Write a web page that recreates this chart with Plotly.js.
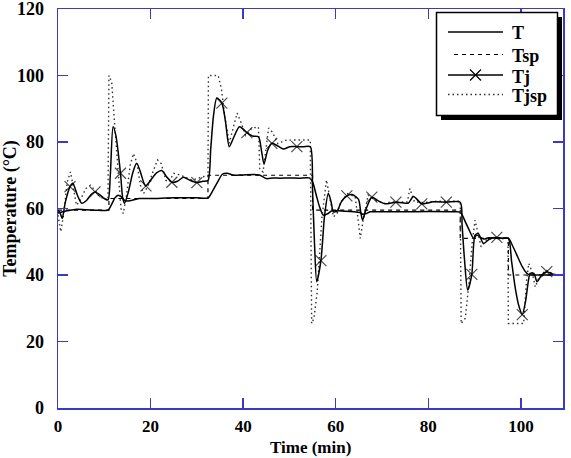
<!DOCTYPE html>
<html>
<head>
<meta charset="utf-8">
<script src="https://cdn.plot.ly/plotly-3.0.1.min.js"></script>
<style>html,body{margin:0;padding:0;background:#fff;}</style>
</head>
<body>
<div id="chart" style="width:571px;height:458px;"></div>
<script>
// ---- Data ----
const tX = [0, 1, 2, 4, 6, 8, 10.8, 11.5, 12.3, 13, 13.7, 14.5, 15.5, 17.5, 20, 25, 30, 32.4, 33.5, 34.5, 35.5, 36.5, 38, 40, 43.5, 45, 46.5, 48, 50, 52, 54.3, 55, 55.8, 56.5, 57.3, 58.2, 59.2, 60.5, 62, 64, 65.2, 65.8, 66.6, 67.5, 70, 75, 80, 85, 86.9, 88, 89, 89.8, 90.5, 91.3, 92, 93, 95, 97.3, 98.3, 99.3, 100.3, 101.3, 102, 103, 105, 107, 109];
const tY = [58.6, 59, 59.3, 59.8, 59.6, 59.5, 59.5, 61, 63.2, 64, 63.5, 62.3, 62.3, 63, 63, 63.2, 63.2, 63.2, 65.5, 68, 70.3, 70.6, 70, 70.1, 70.1, 69, 69.2, 69.1, 69.2, 69.1, 69.2, 68, 64, 60.5, 58, 58.4, 59.3, 59.3, 59.2, 59, 58.8, 58.3, 58.5, 59, 59, 59, 59.1, 59, 58.9, 56, 53, 51, 52, 51.3, 50.8, 51.2, 51, 51, 48.5, 45.5, 42.5, 40.5, 40, 40, 40, 40, 40];

const tspX = [0, 11, 11, 32.4, 32.4, 55, 55, 86.9, 86.9, 97.3, 97.3, 109];
const tspY = [59.5, 59.5, 63, 63, 70, 70, 59.5, 59.5, 51, 51, 40, 40];

const tjX = [0, 0.5, 0.9, 1.6, 2.6, 3.2, 4.2, 5.1, 6.2, 7.2, 8.0, 9.0, 10.0, 10.8, 11.3, 11.9, 12.5, 13.5, 14.0, 14.4, 15.2, 16.2, 17.0, 17.8, 18.6, 19.0, 20.0, 21.3, 22.4, 23.5, 24.6, 25.8, 27.1, 28.5, 30.0, 31.3, 32.4, 33.0, 33.6, 34.3, 35.4, 36.2, 37.0, 38.0, 39.2, 40.8, 42.0, 43.3, 44.0, 44.5, 45.3, 46.2, 47.5, 48.7, 50.1, 51.6, 53.0, 54.5, 55.0, 55.4, 55.9, 56.8, 57.6, 58.4, 59.0, 59.5, 60.3, 61.2, 62.4, 63.5, 64.9, 65.4, 65.8, 66.6, 67.8, 69.2, 70.7, 73.0, 75.0, 75.7, 76.8, 78.6, 81.1, 83.9, 86.9, 87.3, 87.8, 88.5, 89.4, 90.1, 90.8, 91.9, 93.4, 94.8, 96.0, 97.3, 98.0, 98.8, 99.6, 100.3, 101.0, 101.6, 102.0, 102.8, 103.5, 104.5, 105.6, 107, 108.1, 109];
const tjY = [59.5, 58.5, 57, 62, 66.6, 67.6, 64, 61.6, 62.5, 64.3, 65, 64.2, 63, 62.6, 70, 84.6, 82, 70.6, 63, 61.6, 65, 71, 73.6, 71, 67.5, 66.8, 68.5, 70.7, 71.4, 69.5, 67.9, 68.2, 69.4, 68.5, 67.8, 68.2, 68.4, 78, 88, 93.2, 91.7, 86, 78.6, 81.5, 84.6, 82.8, 81.8, 81.6, 77, 73.4, 77.5, 79.6, 78.8, 77.9, 78.6, 78.6, 78.6, 78.6, 65, 50, 38, 44.3, 58, 64.6, 62, 59, 59.2, 62, 63.8, 64.2, 62.8, 59, 56.5, 60, 63.4, 62.3, 61.4, 61.9, 61.6, 61.6, 63.6, 61.4, 62, 61.9, 61.9, 55, 45, 35.5, 40.2, 52, 52.5, 49.5, 51, 51.3, 51, 51, 44, 36, 30.5, 28.1, 32, 38, 40.5, 40.5, 38, 40, 41, 40.2, 40, 40];
// x positions where the Tj curve carries a cross marker
const tjMarkX = [2.6, 8.0, 13.5, 19.0, 24.6, 30.0, 35.4, 40.8, 46.2, 51.6, 56.8, 62.4, 67.8, 73.0, 78.6, 83.9, 89.4, 94.8, 100.3, 105.6];

const tjspX = [0, 0.6, 1.2, 2.0, 2.7, 3.3, 4.0, 4.8, 6.0, 7.0, 8.0, 9.0, 10.8, 11.0, 11.6, 12.2, 13.0, 13.6, 14.1, 14.8, 15.6, 16.3, 17.0, 17.8, 18.5, 19.5, 20.5, 21.5, 22.3, 23.3, 24.0, 25.0, 26.5, 28, 29, 30, 31.5, 32.4, 32.5, 34.6, 35.3, 36.0, 37.0, 37.8, 38.7, 39.5, 40.5, 41.9, 43.3, 43.6, 44.3, 45.5, 46.3, 47.5, 49.0, 51, 53, 54.5, 54.8, 55.3, 56.0, 57.0, 58.0, 58.8, 59.5, 60.3, 61.0, 62.5, 64.2, 64.8, 65.3, 66.0, 67.0, 68.5, 70.5, 72, 74, 75.5, 76.0, 77, 79, 82, 84.5, 86.9, 87.1, 88.0, 88.8, 89.5, 90.1, 90.7, 91.4, 92.5, 94.5, 97.2, 97.3, 100.6, 101.2, 101.7, 102.4, 103.1, 104, 105.5, 107, 109];
const tjspY = [58, 53, 58, 68, 71, 66, 61, 62.5, 66, 67, 65.5, 63.5, 62.5, 100, 98, 86, 70, 60, 58.5, 64, 73, 76.5, 74, 67, 64.5, 67, 71, 74.6, 73.5, 68.5, 68, 70.6, 70, 69, 68.5, 69, 69.6, 69.5, 100, 100, 96, 88, 79.6, 84, 88.7, 86, 82, 84.2, 84.5, 71.6, 71, 84.2, 83, 79.5, 80.5, 80.6, 80.6, 80.6, 25.4, 27, 35, 57, 68.6, 63, 57.5, 58.5, 61.6, 64.5, 63.5, 57, 51, 57, 64, 62.5, 61.5, 62, 62, 62, 66, 62, 61.8, 62.2, 62.2, 62.2, 25.4, 27, 38, 50, 56.5, 53, 48.5, 50.5, 51.2, 51.2, 25.4, 25.4, 38, 43.5, 41, 36.4, 39.5, 41.5, 40.2, 40];

const xTicks = [0, 20, 40, 60, 80, 100];
const yTicks = [0, 20, 40, 60, 80, 100, 120];
const legendNames = ['T', 'Tsp', 'Tj', 'Tjsp'];
const xTitle = 'Time (min)';
const yTitle = 'Temperature (°C)';

// ---- Styling ----
const W = 571, H = 458;
const M = {l: 58, r: 8, t: 9, b: 50};
const PW = W - M.l - M.r, PH = H - M.t - M.b;
const axisColor = '#3a3ac4';
const serif = 'Liberation Serif, Times New Roman, serif';
const px = v => (v - M.l) / PW;
const py = v => (H - M.b - v) / PH;

const tjMarkerSize = tjX.map(x => tjMarkX.includes(x) ? 11 : 0);

const traces = [
  {x: tX, y: tY, mode: 'lines', line: {color: '#000', width: 1.5, shape: 'spline', smoothing: 0.7}, name: 'T'},
  {x: tspX, y: tspY, mode: 'lines', line: {color: '#000', width: 1.2, dash: '4px,4px'}, name: 'Tsp'},
  {x: tjspX, y: tjspY, mode: 'lines', line: {color: '#333', width: 1.4, dash: '1.5px,3px'}, name: 'Tjsp'},
  {x: tjX, y: tjY, mode: 'lines+markers', line: {color: '#000', width: 1.5, shape: 'spline', smoothing: 0.7},
   marker: {symbol: 'x-thin', size: tjMarkerSize, color: '#000', line: {color: '#000', width: 1.2}}, name: 'Tj'}
];

// custom legend (box with drop shadow)
const box = {x0: 436.5, x1: 557.5, y0: 12.5, y1: 115.5};
const sh = 4.5;
const rows = [32, 54.5, 75, 94.5];
const lx0 = 448, lx1 = 503, tx = 510;
const shapes = [
  {type: 'rect', xref: 'paper', yref: 'paper', x0: px(box.x0 + sh), x1: px(box.x1 + sh), y0: py(box.y1 + sh), y1: py(box.y0 + sh),
   fillcolor: '#000', line: {width: 0}},
  {type: 'rect', xref: 'paper', yref: 'paper', x0: px(box.x0), x1: px(box.x1), y0: py(box.y1), y1: py(box.y0),
   fillcolor: '#fff', line: {color: '#000', width: 1.5}},
  {type: 'line', xref: 'paper', yref: 'paper', x0: px(lx0), x1: px(lx1), y0: py(rows[0]), y1: py(rows[0]), line: {color: '#000', width: 1.3}},
  {type: 'line', xref: 'paper', yref: 'paper', x0: px(lx0 + 6), x1: px(lx1), y0: py(rows[1]), y1: py(rows[1]), line: {color: '#000', width: 1.2, dash: '4px,4px'}},
  {type: 'line', xref: 'paper', yref: 'paper', x0: px(lx0), x1: px(lx1), y0: py(rows[2]), y1: py(rows[2]), line: {color: '#000', width: 1.3}},
  {type: 'path', xref: 'paper', yref: 'paper', line: {color: '#000', width: 1.2},
   path: `M${px(475.5 - 5.5)},${py(rows[2] - 5.5)} L${px(475.5 + 5.5)},${py(rows[2] + 5.5)} M${px(475.5 - 5.5)},${py(rows[2] + 5.5)} L${px(475.5 + 5.5)},${py(rows[2] - 5.5)}`},
  {type: 'line', xref: 'paper', yref: 'paper', x0: px(lx0), x1: px(lx1), y0: py(rows[3]), y1: py(rows[3]), line: {color: '#333', width: 1.3, dash: '1.5px,3px'}}
];
const textFont = {family: serif, size: 18, color: '#000', weight: 'bold'};
const axisFont = {family: serif, size: 17, color: '#000', weight: 'bold'};
const annotations = legendNames.map((n, i) => ({
  xref: 'paper', yref: 'paper', x: px(tx), y: py(rows[i] + 1.5), xanchor: 'left', yanchor: 'middle',
  text: n, showarrow: false, font: textFont
}));
annotations.push({
  xref: 'paper', yref: 'paper', x: 0.5, y: py(447), xanchor: 'center', yanchor: 'middle',
  text: xTitle, showarrow: false, font: axisFont
});

const layout = {
  width: W, height: H,
  margin: M,
  paper_bgcolor: '#fff', plot_bgcolor: '#fff',
  showlegend: false,
  xaxis: {
    range: [0, 109.1], tickvals: xTicks, ticks: 'inside', ticklen: 10, tickwidth: 1.5, tickcolor: axisColor,
    showline: true, linecolor: axisColor, linewidth: 1.5, mirror: 'ticks', showgrid: false, zeroline: false,
    tickfont: axisFont, ticklabelstandoff: 2, automargin: false, ticklabeloverflow: 'allow'
  },
  yaxis: {
    range: [0, 120], tickvals: yTicks, ticks: 'inside', ticklen: 10, tickwidth: 1.5, tickcolor: axisColor,
    showline: true, linecolor: axisColor, linewidth: 1.5, mirror: 'ticks', showgrid: false, zeroline: false,
    tickfont: textFont, ticklabelstandoff: 9, automargin: false, ticklabeloverflow: 'allow',
    title: {text: yTitle, font: textFont, standoff: 2}
  },
  shapes: shapes,
  annotations: annotations
};

Plotly.newPlot('chart', traces, layout, {staticPlot: true, displayModeBar: false});
</script>
</body>
</html>
